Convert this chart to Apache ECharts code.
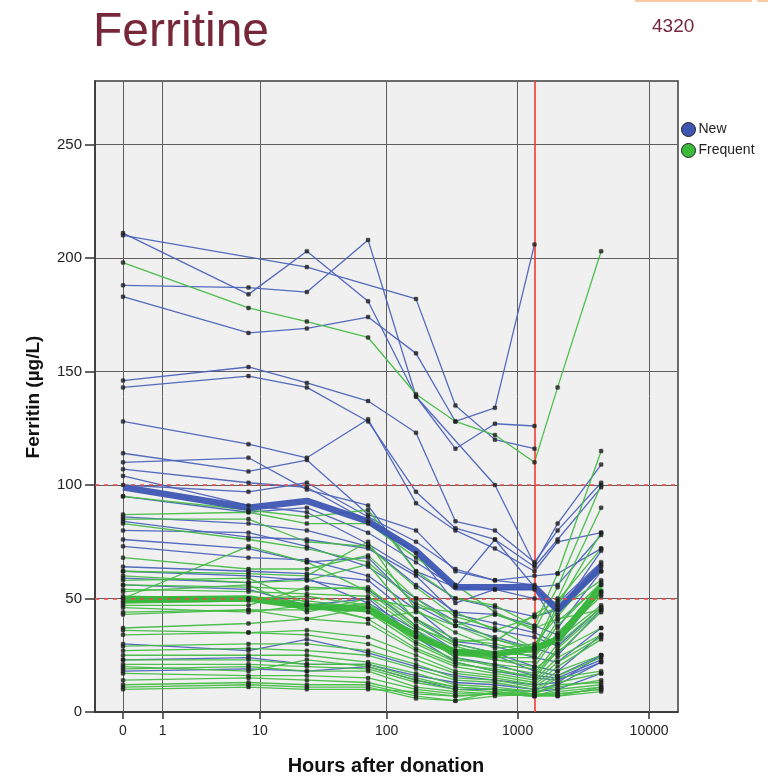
<!DOCTYPE html>
<html>
<head>
<meta charset="utf-8">
<script src="https://cdn.jsdelivr.net/npm/echarts@6/dist/echarts.min.js"></script>
<style>
  html, body { margin: 0; padding: 0; background: #ffffff; }
  #chart { width: 768px; height: 778px; }
</style>
</head>
<body>
<div id="chart"></div>
<script>
// Sampling times (hours after donation)
const hours = [0, 8, 24, 72, 168, 336, 672, 1344, 2016, 4320];
// Tick marks on the hours axis and the ferritin axis
const hourTicks = [0, 1, 10, 100, 1000, 10000];
const ferritinTicks = [0, 50, 100, 150, 200, 250];
// Reference levels (µg/L) and the 8-week mark (hours)
const referenceLevels = [100, 50];
const cutoffHour = 1344;

// Individual trajectories, one row per donor, one value per sampling time
const newDonors = [
  [211, 184, 203, 181, 139, 116, 127, 126, null, null],
  [210, null, 196, null, 182, 135, 120, 116, null, null],
  [188, 187, 185, 208, 139, null, 100, 65, 83, 109],
  [183, 167, 169, 174, 158, 128, 134, 206, null, null],
  [146, 152, 145, 137, 123, 84, 80, 66, 80, 101],
  [143, 148, 143, 128, 97, 81, 76, 64, 76, 99],
  [128, 118, 112, 129, 92, 80, 72, 62, 75, 79],
  [114, 106, 111, 87, 80, 62, 58, 60, 61, 72],
  [110, 112, 98, 91, 62, 55, 76, 55, 56, 78],
  [107, 101, 99, 84, 70, 48, 54, 50, 48, 66],
  [104, 91, 88, 74, 61, 50, 46, 42, 45, 64],
  [100, 97, 101, 86, 75, 63, 58, 56, 43, 71],
  [95, 88, 90, 79, 66, 55, 54, 54, 37, 62],
  [86, 83, 80, 73, 56, 44, 43, 38, 34, 56],
  [84, 77, 76, 72, 60, 43, 39, 35, 30, 53],
  [80, 79, 73, 64, 50, 40, 36, 33, 29, 46],
  [76, 72, 66, 68, 47, 38, 33, 28, 25, 45],
  [73, 68, 67, 60, 45, 31, 29, 24, 22, 37],
  [64, 62, 61, 58, 41, 30, 26, 20, 18, 34],
  [62, 60, 58, 54, 38, 27, 25, 18, 16, 25],
  [59, 57, 59, 48, 36, 24, 21, 16, 15, 23],
  [56, 54, 47, 50, 33, 22, 18, 15, 14, 22],
  [30, 27, 32, 26, 20, 16, 14, 12, 13, 25],
  [23, 24, 21, 21, 16, 13, 12, 10, 12, 22],
  [18, 19, 18, 20, 14, 10, 10, 9, 10, 17]
];

const frequentDonors = [
  [198, 178, 172, 165, 140, 128, 122, 110, 143, 203],
  [95, 89, 86, 89, 62, 50, 47, 38, 61, 115],
  [87, 88, 83, 83, 68, 56, 44, 36, 55, 100],
  [85, 85, 75, 73, 55, 42, 37, 28, 50, 90],
  [83, 76, 72, 66, 48, 40, 32, 27, 47, 79],
  [68, 63, 63, 69, 50, 38, 31, 43, 49, 72],
  [62, 61, 60, 75, 45, 35, 28, 30, 42, 65],
  [60, 57, 58, 65, 40, 30, 26, 25, 40, 56],
  [58, 59, 48, 41, 44, 38, 43, 37, 41, 45],
  [56, 55, 54, 55, 38, 29, 24, 24, 38, 57],
  [54, 53, 52, 51, 36, 27, 23, 22, 35, 53],
  [53, 56, 44, 50, 46, 44, 36, 42, 46, 62],
  [51, 50, 51, 47, 34, 26, 23, 20, 34, 52],
  [50, 73, 66, 53, 37, 31, 32, 28, 45, 58],
  [49, 50, 49, 46, 35, 24, 20, 17, 30, 46],
  [48, 49, 47, 44, 30, 22, 18, 16, 28, 45],
  [47, 47, 55, 54, 41, 32, 30, 26, 32, 47],
  [46, 44, 47, 41, 28, 21, 19, 15, 27, 37],
  [44, 45, 45, 48, 33, 25, 24, 29, 33, 51],
  [43, 45, 41, 46, 31, 23, 21, 19, 26, 44],
  [37, 39, 41, 39, 27, 20, 17, 14, 24, 34],
  [36, 35, 36, 33, 25, 18, 16, 13, 22, 33],
  [34, 35, 34, 30, 23, 17, 15, 12, 20, 32],
  [29, 30, 30, 27, 21, 15, 14, 11, 18, 25],
  [27, 28, 27, 25, 19, 14, 13, 10, 16, 24],
  [25, 25, 25, 22, 17, 12, 11, 9, 15, 18],
  [23, 23, 21, 21, 15, 11, 10, 8, 13, 17],
  [21, 21, 20, 19, 13, 10, 9, 8, 12, 13],
  [20, 18, 23, 20, 14, 11, 10, 9, 11, 14],
  [19, 20, 18, 18, 11, 9, 8, 7, 10, 12],
  [17, 16, 16, 15, 10, 8, 8, 7, 9, 11],
  [14, 15, 14, 13, 8, 7, 8, 8, 8, 10],
  [12, 13, 12, 12, 7, 5, 7, 8, 7, 11],
  [11, 12, 11, 11, 6, 5, 9, 7, 8, 10],
  [10, 11, 10, 10, 9, 7, 8, 7, 7, 9]
];

// Group mean curves
const newMean = [99, 90, 93, 84, 71, 55, 55, 55, 45, 64];
const frequentMean = [49.5, 50, 46.5, 45.5, 33.5, 26.5, 25.5, 28, 32, 55];

const NEW_COLOR = '#4c63bb';
const FREQ_COLOR = '#44bc44';
const NEW_MEAN_COLOR = '#3d56b3';
const FREQ_MEAN_COLOR = '#37b53b';
const FONT = "'Liberation Sans', Arial, sans-serif";

// hours are drawn on a log10(h + 1) scale so that 0 h can be shown
const toAxis = h => Math.log10(h + 1);
const tickPositions = hourTicks.map(toAxis);

function points(values) {
  const out = [];
  hours.forEach((h, i) => {
    if (values[i] != null) out.push([toAxis(h), values[i]]);
  });
  return out;
}

function trajectory(name, values, color, width, z) {
  return {
    type: 'line',
    name: name,
    data: points(values),
    symbol: 'none',
    showSymbol: false,
    silent: true,
    z: z,
    lineStyle: { color: color, width: width, opacity: 0.95 },
    itemStyle: { color: color }
  };
}

const series = [];

// vertical grid lines at the hour ticks
series.push({
  type: 'line',
  name: 'grid',
  data: [],
  silent: true,
  markLine: {
    silent: true,
    z: 1,
    symbol: ['none', 'none'],
    label: { show: false },
    lineStyle: { color: '#5e5e5e', width: 1, type: 'solid' },
    data: tickPositions.map(v => ({ xAxis: v }))
  }
});

newDonors.forEach(d => series.push(trajectory('New', d, NEW_COLOR, 1.3, 2)));
frequentDonors.forEach(d => series.push(trajectory('Frequent', d, FREQ_COLOR, 1.3, 2)));
series.push(trajectory('Frequent', frequentMean, FREQ_MEAN_COLOR, 6.5, 3));
series.push(trajectory('New', newMean, NEW_MEAN_COLOR, 6.5, 3));

// reference lines
series.push({
  type: 'line',
  name: 'reference',
  data: [],
  silent: true,
  markLine: {
    silent: true,
    z: 4,
    symbol: ['none', 'none'],
    label: { show: false },
    data: [
      { xAxis: toAxis(cutoffHour), lineStyle: { color: '#f23a2f', width: 1.6, type: 'solid' } }
    ].concat(referenceLevels.map(v => ({
      yAxis: v, lineStyle: { color: '#ee4b45', width: 1.5, type: [4, 5] }
    })))
  }
});

// measurement points
const allPoints = [];
newDonors.concat(frequentDonors).forEach(d => points(d).forEach(p => allPoints.push(p)));
series.push({
  type: 'scatter',
  name: 'measurements',
  data: allPoints,
  symbol: 'roundRect',
  symbolSize: 4,
  silent: true,
  z: 6,
  itemStyle: { color: '#1b1b1b', borderColor: '#3a3a3a', borderWidth: 0.4 }
});

const chart = echarts.init(document.getElementById('chart'), null, { renderer: 'canvas' });
chart.setOption({
  animation: false,
  backgroundColor: '#ffffff',
  textStyle: { fontFamily: FONT },
  grid: {
    left: 95, right: 90, top: 81, bottom: 66,
    show: true,
    backgroundColor: '#f0f0f0',
    borderColor: '#3c3c3c',
    borderWidth: 1.5
  },
  legend: {
    orient: 'vertical',
    left: 681,
    top: 122,
    padding: 0,
    itemGap: 6,
    itemWidth: 14,
    itemHeight: 14,
    icon: 'circle',
    selectedMode: false,
    textStyle: { fontSize: 14, color: '#222', fontFamily: FONT, padding: [0, 0, 0, -2] },
    data: [
      { name: 'New', itemStyle: { color: '#3e56b2', borderColor: '#222', borderWidth: 1 } },
      { name: 'Frequent', itemStyle: { color: '#3cba3c', borderColor: '#222', borderWidth: 1 } }
    ]
  },
  xAxis: {
    type: 'value',
    min: -0.213,
    max: 4.22,
    splitLine: { show: false },
    axisLine: { show: true, onZero: false, lineStyle: { color: '#333', width: 1.5 } },
    axisTick: {
      show: true, inside: false, length: 7,
      customValues: tickPositions,
      lineStyle: { color: '#333', width: 1.5 }
    },
    axisLabel: {
      customValues: tickPositions,
      margin: 12,
      fontSize: 14,
      color: '#222',
      fontFamily: FONT,
      formatter: function (v) {
        const i = tickPositions.findIndex(t => Math.abs(t - v) < 1e-6);
        return i >= 0 ? String(hourTicks[i]) : '';
      }
    }
  },
  yAxis: {
    type: 'value',
    min: 0,
    max: 278,
    interval: 50,
    splitLine: { show: true, lineStyle: { color: '#5e5e5e', width: 1 } },
    axisLine: { show: true, onZero: false, lineStyle: { color: '#333', width: 1.5 } },
    axisTick: {
      show: true, inside: false, length: 10,
      customValues: ferritinTicks,
      lineStyle: { color: '#333', width: 1.5 }
    },
    axisLabel: {
      customValues: ferritinTicks,
      margin: 13,
      fontSize: 15,
      color: '#222',
      fontFamily: FONT
    }
  },
  graphic: [
    { type: 'rect', shape: { x: 635, y: 0, width: 117, height: 2 }, style: { fill: '#f9caa2' } },
    { type: 'rect', shape: { x: 757, y: 0, width: 11, height: 2 }, style: { fill: '#f9caa2' } },
    {
      type: 'text', x: 93, y: 33,
      style: {
        text: 'Ferritine', fill: '#77273a',
        font: '48px ' + FONT,
        textAlign: 'left', textVerticalAlign: 'middle'
      }
    },
    {
      type: 'text', x: 652, y: 27,
      style: {
        text: '4320', fill: '#77273a',
        font: '19px ' + FONT,
        textAlign: 'left', textVerticalAlign: 'middle'
      }
    },
    {
      type: 'text', x: 34, y: 397, rotation: Math.PI / 2,
      style: {
        text: 'Ferritin (µg/L)', fill: '#111',
        font: 'bold 19px ' + FONT,
        textAlign: 'center', textVerticalAlign: 'middle'
      }
    },
    {
      type: 'text', x: 386, y: 766,
      style: {
        text: 'Hours after donation', fill: '#111',
        font: 'bold 20px ' + FONT,
        textAlign: 'center', textVerticalAlign: 'middle'
      }
    }
  ],
  series: series
});
</script>
</body>
</html>
